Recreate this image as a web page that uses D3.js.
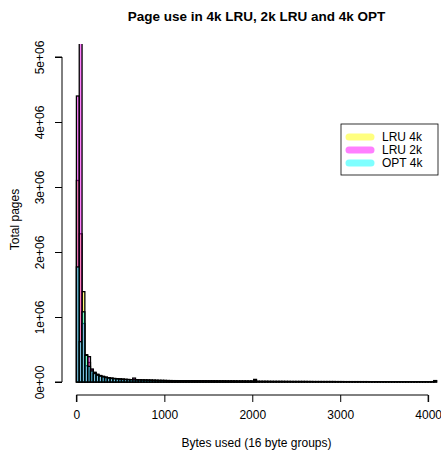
<!DOCTYPE html>
<html>
<head>
<meta charset="utf-8">
<script src="https://cdn.jsdelivr.net/npm/d3@7"></script>
<style>
  html, body { margin: 0; padding: 0; background: #fff; }
  svg { display: block; font-family: "Liberation Sans", Arial, Helvetica, sans-serif; }
</style>
</head>
<body>
<svg id="chart" width="441" height="455"></svg>
<script>
// Page-use histograms: counts (thousands of pages) per 32-byte bin.
const binWidth = 32;

const lru4k = [
  3100, 2280, 1390, 420, 300, 190, 150, 120, 100, 88,
  76, 66, 60, 55, 50, 46, 43, 40, 38, 36,
  35, 33, 31, 30, 29, 28, 27, 26, 25, 24,
  23, 23, 22, 21, 21, 20, 20, 19, 19, 18,
  18, 17, 17, 17, 16, 16, 16, 15, 15, 15,
  14, 14, 14, 13, 13, 13, 12, 12, 12, 12,
  11, 11, 11, 24,
  10, 10, 10, 10, 9, 9, 9, 9, 9, 9,
  8, 8, 8, 8, 8, 8, 8, 8, 7, 7,
  7, 7, 7, 7, 7, 7, 7, 7, 6, 6,
  6, 6, 6, 6, 6, 6, 6, 6, 6, 6,
  5, 5, 5, 5, 5, 5, 5, 5, 5, 5,
  5, 5, 5, 5, 5, 5, 5, 5, 5, 5,
  5, 5, 6, 22
];

const lru2k = [
  4400, 5500, 900, 250, 390, 200, 140, 110, 95, 80,
  70, 62, 56, 52, 48, 45, 42, 40, 38, 36,
  60, 34, 32, 30, 29, 28, 27, 26, 25, 24,
  24, 23, 22, 22, 21, 21, 20, 20, 19, 19,
  18, 18, 18, 17, 17, 17, 16, 16, 16, 15,
  15, 15, 15, 14, 14, 14, 14, 13, 13, 13,
  13, 13, 13, 40
];

const opt4k = [
  1770, 620, 1080, 410, 240, 170, 130, 105, 90, 78,
  68, 60, 54, 50, 46, 43, 40, 37, 35, 33,
  32, 30, 29, 28, 27, 26, 25, 24, 23, 22,
  22, 21, 20, 20, 19, 19, 18, 18, 17, 17,
  17, 16, 16, 16, 15, 15, 15, 14, 14, 14,
  13, 13, 13, 12, 12, 12, 12, 11, 11, 11,
  11, 10, 10, 20,
  9, 9, 9, 9, 9, 8, 8, 8, 8, 8,
  8, 8, 7, 7, 7, 7, 7, 7, 7, 7,
  6, 6, 6, 6, 6, 6, 6, 6, 6, 6,
  6, 5, 5, 5, 5, 5, 5, 5, 5, 5,
  5, 5, 5, 5, 5, 5, 4, 4, 4, 4,
  4, 4, 4, 4, 4, 4, 4, 4, 4, 4,
  4, 4, 5, 18
];

const seriesNames = ["LRU 4k", "LRU 2k", "OPT 4k"];
const seriesColors = ["rgba(255,255,0,0.5)", "rgba(255,0,255,0.5)", "rgba(0,255,255,0.5)"];
const xTicks = [0, 1000, 2000, 3000, 4000];
const yTicks = [0, 1e6, 2e6, 3e6, 4e6, 5e6];
const yTickLabels = ["0e+00", "1e+06", "2e+06", "3e+06", "4e+06", "5e+06"];

const svg = d3.select("#chart");

// Plot region
const plotL = 62, plotR = 451, plotT = 44, plotB = 395;

const x = d3.scaleLinear().domain([-164, 4260]).range([plotL, plotR]);
const y = d3.scaleLinear().domain([-0.2e6, 5.2e6]).range([plotB, plotT]);

svg.append("defs").append("clipPath").attr("id", "plotclip")
  .append("rect")
  .attr("x", plotL).attr("y", plotT)
  .attr("width", plotR - plotL).attr("height", plotB - plotT);

const bars = svg.append("g").attr("clip-path", "url(#plotclip)");

[lru4k, lru2k, opt4k].forEach((vals, si) => {
  bars.append("g")
    .selectAll("rect")
    .data(vals)
    .join("rect")
    .attr("x", (d, i) => x(i * binWidth))
    .attr("width", x(binWidth) - x(0))
    .attr("y", d => y(d * 1000))
    .attr("height", d => y(0) - y(d * 1000))
    .attr("fill", seriesColors[si])
    .attr("stroke", "#000")
    .attr("stroke-width", 1.3);
});

// X axis (R style: line spans first to last tick)
const xAxis = svg.append("g")
  .attr("transform", `translate(0,${plotB})`)
  .call(d3.axisBottom(x).tickValues(xTicks).tickSize(7).tickPadding(8).tickFormat(d3.format("d")));
xAxis.select(".domain").attr("d", `M${x(0)},7V0H${x(4000)}V7`);
xAxis.selectAll("text").attr("font-size", 12).attr("fill", "#000")
  .attr("font-family", "Liberation Sans, Arial, sans-serif");

// Y axis with labels rotated parallel to the axis
const yAxis = svg.append("g")
  .attr("transform", `translate(${plotL},0)`)
  .call(d3.axisLeft(y).tickValues(yTicks).tickSize(7).tickFormat((d, i) => yTickLabels[i]));
yAxis.select(".domain").attr("d", `M-7,${y(0)}H0V${y(5e6)}H-7`);
yAxis.selectAll(".tick text")
  .attr("font-size", 12).attr("fill", "#000")
  .attr("font-family", "Liberation Sans, Arial, sans-serif")
  .attr("text-anchor", "middle")
  .attr("x", 0).attr("y", 0).attr("dy", null)
  .attr("transform", "translate(-18,0) rotate(-90)");

// Title and axis labels
svg.append("text")
  .attr("x", (plotL + plotR) / 2).attr("y", 21)
  .attr("text-anchor", "middle")
  .attr("font-size", 13.5).attr("font-weight", "bold")
  .text("Page use in 4k LRU, 2k LRU and 4k OPT");

svg.append("text")
  .attr("x", (plotL + plotR) / 2).attr("y", 447)
  .attr("text-anchor", "middle")
  .attr("font-size", 12)
  .text("Bytes used (16 byte groups)");

svg.append("text")
  .attr("transform", `translate(19,${(plotT + plotB) / 2}) rotate(-90)`)
  .attr("text-anchor", "middle")
  .attr("font-size", 12)
  .text("Total pages");

// Legend
const lg = svg.append("g").attr("transform", "translate(341,124)");
lg.append("rect")
  .attr("x", 0).attr("y", 0).attr("width", 97).attr("height", 51)
  .attr("fill", "#fff").attr("stroke", "#000").attr("stroke-width", 0.8);
seriesNames.forEach((name, i) => {
  const yy = 13 + i * 13;
  lg.append("line")
    .attr("x1", 8).attr("x2", 30).attr("y1", yy).attr("y2", yy)
    .attr("stroke", seriesColors[i]).attr("stroke-width", 7)
    .attr("stroke-linecap", "round");
  lg.append("text")
    .attr("x", 41).attr("y", yy + 4)
    .attr("font-size", 12)
    .text(name);
});
</script>
</body>
</html>
